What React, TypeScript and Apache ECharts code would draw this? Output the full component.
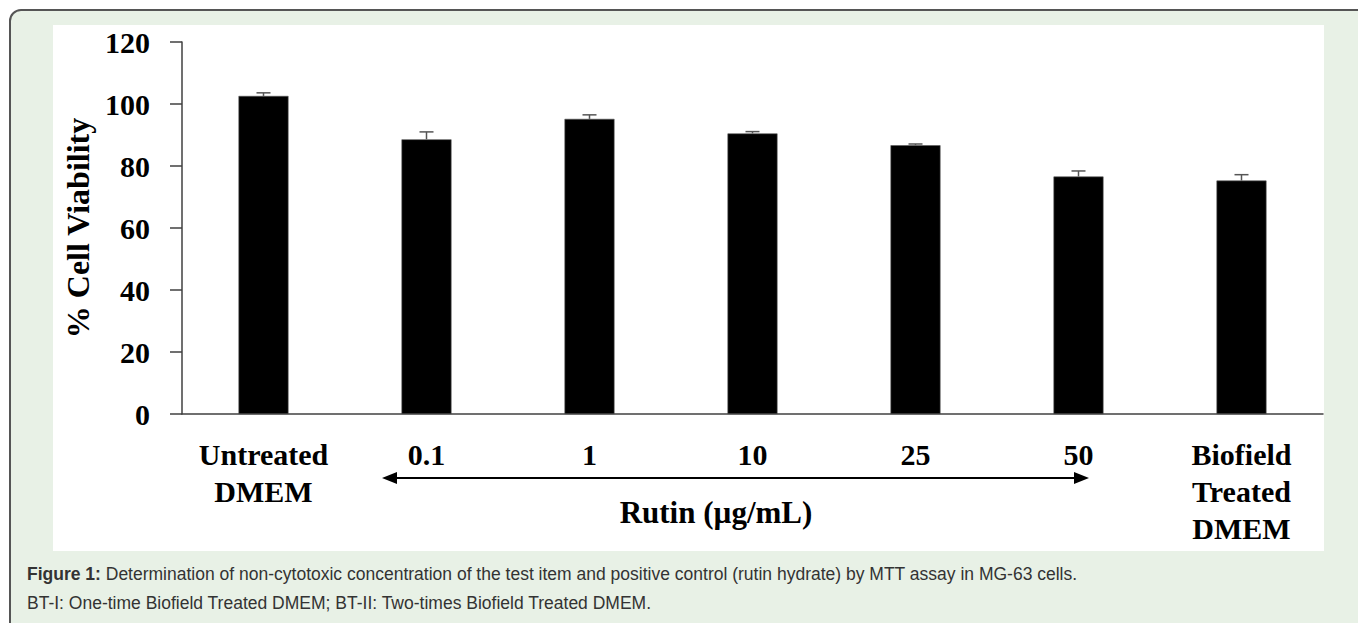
import React, { useEffect, useRef } from "react";
import * as echarts from "echarts";

const categories = ["Untreated\nDMEM", "0.1", "1", "10", "25", "50", "Biofield\nTreated\nDMEM"];
const viability = [102.6, 88.6, 95.2, 90.5, 86.7, 76.6, 75.3];
const errors = [1.0, 2.4, 1.3, 0.6, 0.4, 1.8, 1.9];
const yTicks = { min: 0, max: 120, interval: 20 };
const yName = "% Cell Viability";
const xGroupName = "Rutin (µg/mL)";
const captionBold = "Figure 1:";
const captionRest = " Determination of non-cytotoxic concentration of the test item and positive control (rutin hydrate) by MTT assay in MG-63 cells.";
const captionLine2 = "BT-I: One-time Biofield Treated DMEM; BT-II: Two-times Biofield Treated DMEM.";

const SERIF = "'Liberation Serif', 'Times New Roman', serif";
const SANS = "'Liberation Sans', Arial, sans-serif";

export default function App() {
  const ref = useRef<HTMLDivElement>(null);

  useEffect(() => {
    if (!ref.current) return;
    const chart = echarts.init(ref.current, null, { renderer: "svg" });
    const errData = viability.map((v, i) => [i, v, errors[i]]);
    chart.setOption({
      animation: false,
      backgroundColor: "transparent",
      grid: { left: 182, right: 35, top: 42, bottom: 209, outerBoundsMode: "none" },
      xAxis: {
        type: "category",
        data: categories,
        axisLine: { show: true, lineStyle: { color: "#404040", width: 1.5 } },
        axisTick: { show: false },
        axisLabel: {
          interval: 0,
          margin: 22,
          fontFamily: SERIF,
          fontWeight: "bold",
          fontSize: 30,
          lineHeight: 37,
          color: "#000",
        },
        splitLine: { show: false },
      },
      yAxis: {
        type: "value",
        min: yTicks.min,
        max: yTicks.max,
        interval: yTicks.interval,
        name: yName,
        nameLocation: "middle",
        nameGap: 85,
        nameRotate: 90,
        nameTextStyle: { fontFamily: SERIF, fontWeight: "bold", fontSize: 32, color: "#000" },
        axisLine: { show: true, lineStyle: { color: "#404040", width: 1.5 } },
        axisTick: { show: true, inside: false, length: 12, lineStyle: { color: "#404040", width: 1.5 } },
        axisLabel: { margin: 32, fontFamily: SERIF, fontWeight: "bold", fontSize: 30, color: "#000" },
        splitLine: { show: false },
      },
      series: [
        {
          type: "bar",
          data: viability,
          barWidth: 50,
          itemStyle: { color: "#000", borderColor: "#555", borderWidth: 0.6 },
        },
        {
          type: "custom",
          data: errData,
          encode: { x: 0, y: 1 },
          z: 5,
          renderItem: (params: any, api: any) => {
            const i = api.value(0);
            const v = api.value(1);
            const e = api.value(2);
            const base = api.coord([i, v]);
            const top = api.coord([i, v + e]);
            const hw = 7;
            const style = { stroke: "#555", lineWidth: 1.5 };
            return {
              type: "group",
              children: [
                { type: "line", shape: { x1: base[0], y1: base[1], x2: top[0], y2: top[1] }, style },
                { type: "line", shape: { x1: top[0] - hw, y1: top[1], x2: top[0] + hw, y2: top[1] }, style },
              ],
            };
          },
        },
      ],
      graphic: [
        {
          type: "line",
          shape: { x1: 395, y1: 478, x2: 1076, y2: 478 },
          style: { stroke: "#000", lineWidth: 2 },
        },
        {
          type: "polygon",
          shape: { points: [[382, 478], [397, 472], [397, 484]] },
          style: { fill: "#000" },
        },
        {
          type: "polygon",
          shape: { points: [[1089, 478], [1074, 472], [1074, 484]] },
          style: { fill: "#000" },
        },
        {
          type: "text",
          x: 716,
          y: 512,
          style: {
            text: xGroupName,
            fontFamily: SERIF,
            fontWeight: "bold",
            fontSize: 31,
            fill: "#000",
            align: "center",
            verticalAlign: "middle",
          },
        },
        {
          type: "text",
          x: 27,
          y: 574,
          style: {
            text: "{b|" + captionBold + "}{n|" + captionRest + "}",
            verticalAlign: "middle",
            rich: {
              b: { fontFamily: SANS, fontWeight: "bold", fontSize: 17.5, fill: "#333" },
              n: { fontFamily: SANS, fontSize: 17.5, fill: "#333" },
            },
          },
        },
        {
          type: "text",
          x: 27,
          y: 603,
          style: {
            text: captionLine2,
            fontFamily: SANS,
            fontSize: 17.5,
            fill: "#333",
            verticalAlign: "middle",
          },
        },
      ],
    });
    return () => chart.dispose();
  }, []);

  return (
    <div style={{ position: "fixed", left: 0, top: 0, width: 1358, height: 623, overflow: "hidden", background: "#fff" }}>
      <div
        style={{
          position: "absolute",
          left: 9,
          top: 9,
          width: 1420,
          height: 700,
          border: "2px solid #555",
          borderRadius: 12,
          background: "#e8f1e6",
          boxSizing: "border-box",
        }}
      />
      <div style={{ position: "absolute", left: 53, top: 25, width: 1271, height: 526, background: "#fff" }} />
      <div ref={ref} style={{ position: "absolute", left: 0, top: 0, width: 1358, height: 623 }} />
    </div>
  );
}
